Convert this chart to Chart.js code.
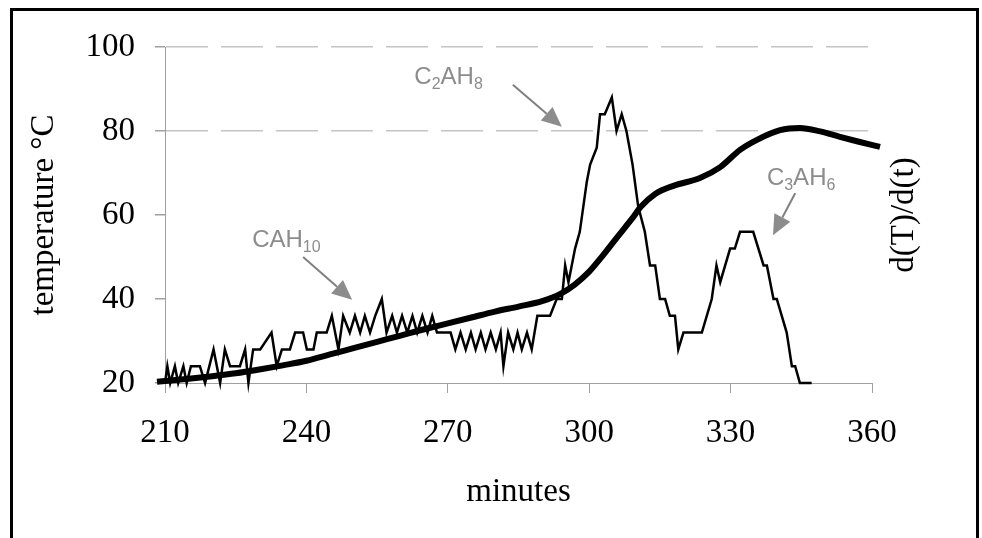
<!DOCTYPE html>
<html>
<head>
    <title>temperature</title>
    <script src="https://cdn.jsdelivr.net/npm/chart.js"></script>
    <style>body { margin: 0; background: #fff; }</style>
</head>
<body>
    <canvas id="chart" width="982" height="538"></canvas>

    <script>
        // thick curve: temperature
        var tempMinutes = [208.3, 215, 220, 225, 230, 235, 240, 245, 250, 255, 260, 265, 270, 275, 280, 285, 290, 294, 297, 300, 303, 306, 309, 311, 314, 318, 323.5, 327.8, 332, 335.6, 340.5, 344.7, 349, 353.2, 357, 361.7];
        var tempValues  = [20.3, 21, 21.6, 22.3, 23.2, 24.2, 25.3, 26.8, 28.3, 29.8, 31.3, 32.8, 34.2, 35.6, 37, 38.2, 39.5, 41.3, 43.5, 46.5, 50.5, 54.8, 59, 62, 65, 67, 68.8, 71.4, 75.5, 77.9, 80.2, 80.7, 79.9, 78.6, 77.5, 76.2];

        // thin jagged curve: d(T)/d(t)
        var rateMinutes = [210, 210.5, 211.1, 212.1, 212.8, 213.9, 214.6, 215.5, 216.4, 217.4, 218.5, 220.3, 221.7, 222.7, 223.8, 225.9, 227, 227.7, 228.7, 230.2, 232.6, 233.7, 234.8, 236.5, 237.6, 239.3, 240.1, 241.5, 242.2, 244.3, 245.4, 246.8, 247.8, 249.2, 250.3, 251.4, 252.4, 253.5, 254.6, 256, 257, 258.2, 259.2, 260.3, 261.4, 262.5, 263.5, 264.6, 265.7, 266.7, 267.7, 270.6, 271.6, 272.7, 273.8, 274.9, 275.9, 277, 278, 279.1, 280.2, 281.2, 281.8, 282.8, 283.9, 284.8, 285.7, 286.8, 287.8, 289, 291.7, 293.1, 294.2, 294.9, 295.6, 297, 298, 299.5, 300.2, 301.6, 302.3, 303.3, 304.8, 305.8, 306.9, 307.9, 309.2, 310.4, 311.8, 312.9, 314, 315, 316.1, 317.1, 318.2, 318.9, 320, 323.9, 326, 327, 327.8, 329.9, 330.9, 332, 334.8, 337, 337.7, 339.1, 339.8, 341.9, 343, 343.7, 344.7, 347.2];
        var rateValues  = [20, 24, 20, 24, 20, 24, 20, 24, 24, 24, 20, 28, 20, 28, 24, 24, 28, 20, 28, 28, 32, 24, 28, 28, 32, 32, 28, 28, 32, 32, 36, 28, 36, 32, 36, 32, 36, 32, 36, 40, 32, 36, 32, 36, 32, 36, 32, 36, 32, 36, 32, 32, 28, 32, 28, 32, 28, 32, 28, 32, 28, 32, 24, 32, 28, 32, 28, 32, 28, 36, 36, 40, 40, 48, 44, 52, 56, 68, 72, 76, 84, 84, 88, 80, 84, 80, 72, 62, 56, 48, 48, 40, 40, 36, 36, 28, 32, 32, 40, 48, 44, 52, 52, 56, 56, 48, 48, 40, 40, 32, 24, 24, 20, 20];

        var xTicks = [210, 240, 270, 300, 330, 360];
        var yTicks = [20, 40, 60, 80, 100];
        var dashedAt = [80, 100];

        function points(xs, ys) {
            return xs.map(function (x, i) { return { x: x, y: ys[i] }; });
        }

        var serif = '"Liberation Serif", "Times New Roman", serif';
        var sans = '"Liberation Sans", Arial, sans-serif';
        var axisGray = '#a0a0a0';

        // grey labels with arrows, placed in data units
        var notes = [
            { parts: [['CAH', 0], ['10', 1]], at: [228.5, 52.4], from: [239.3, 50], to: [249.7, 39.8] },
            { parts: [['C', 0], ['2', 1], ['AH', 0], ['8', 1]], at: [262.9, 91.2], from: [283.8, 91], to: [294.2, 81] },
            { parts: [['C', 0], ['3', 1], ['AH', 0], ['6', 1]], at: [337.7, 67.1], from: [343.7, 65.2], to: [339.0, 55.2] }
        ];

        var overlay = {
            id: 'overlay',
            beforeDraw: function (chart) {
                var c = chart.ctx;
                c.save();
                c.fillStyle = '#fff';
                c.fillRect(0, 0, chart.width, chart.height);
                c.strokeStyle = '#000';
                c.lineWidth = 3;
                c.strokeRect(11.5, 9.5, 966, 600);
                c.restore();
            },
            afterDraw: function (chart) {
                var c = chart.ctx, xs = chart.scales.x, ys = chart.scales.y;
                var area = chart.chartArea;

                // right-hand axis title, read bottom to top
                c.save();
                c.translate(904, (area.top + area.bottom) / 2);
                c.rotate(-Math.PI / 2);
                c.font = '33px ' + serif;
                c.fillStyle = '#000';
                c.textAlign = 'center';
                c.textBaseline = 'middle';
                c.fillText('d(T)/d(t)', 0, 0);
                c.restore();

                notes.forEach(function (n) {
                    c.save();
                    c.fillStyle = '#8c8c8c';
                    c.strokeStyle = '#808080';
                    c.textBaseline = 'alphabetic';
                    var px = xs.getPixelForValue(n.at[0]);
                    var py = ys.getPixelForValue(n.at[1]);
                    n.parts.forEach(function (p) {
                        c.font = (p[1] ? '16px ' : '24px ') + sans;
                        c.fillText(p[0], px, py + (p[1] ? 5 : 0));
                        px += c.measureText(p[0]).width;
                    });
                    var x1 = xs.getPixelForValue(n.from[0]), y1 = ys.getPixelForValue(n.from[1]);
                    var x2 = xs.getPixelForValue(n.to[0]), y2 = ys.getPixelForValue(n.to[1]);
                    var a = Math.atan2(y2 - y1, x2 - x1);
                    var len = 20, half = 9;
                    var bx = x2 - len * Math.cos(a), by = y2 - len * Math.sin(a);
                    c.lineWidth = 2;
                    c.beginPath();
                    c.moveTo(x1, y1);
                    c.lineTo(bx, by);
                    c.stroke();
                    c.beginPath();
                    c.moveTo(x2, y2);
                    c.lineTo(bx + half * Math.sin(a), by - half * Math.cos(a));
                    c.lineTo(bx - half * Math.sin(a), by + half * Math.cos(a));
                    c.closePath();
                    c.fill();
                    c.restore();
                });
            }
        };

        var ctx = document.getElementById('chart').getContext('2d');
        var chart = new Chart(ctx, {
            type: 'line',
            data: {
                datasets: [{
                    label: 'temperature',
                    data: points(tempMinutes, tempValues),
                    borderColor: '#000',
                    borderWidth: 6,
                    pointRadius: 0,
                    tension: 0.4,
                    cubicInterpolationMode: 'monotone',
                    clip: false
                }, {
                    label: 'd(T)/d(t)',
                    data: points(rateMinutes, rateValues),
                    borderColor: '#000',
                    borderWidth: 2.5,
                    pointRadius: 0,
                    tension: 0,
                    clip: false
                }]
            },
            options: {
                responsive: false,
                animation: false,
                events: [],
                layout: { padding: { top: 47, right: 110, left: 0, bottom: 0 } },
                plugins: { legend: { display: false }, tooltip: { enabled: false } },
                scales: {
                    x: {
                        type: 'linear',
                        min: 210,
                        max: 360,
                        afterBuildTicks: function (s) { s.ticks = xTicks.map(function (v) { return { value: v }; }); },
                        afterFit: function (s) { s.height = 155; },
                        grid: { drawOnChartArea: false, tickLength: 10, tickColor: axisGray },
                        border: { color: axisGray, width: 1 },
                        ticks: { color: '#000', padding: 21, font: { family: serif, size: 33 } },
                        title: { display: true, text: 'minutes', color: '#000', padding: { top: 0, bottom: 26 }, font: { family: serif, size: 33 } }
                    },
                    y: {
                        min: 20,
                        max: 100,
                        afterBuildTicks: function (s) { s.ticks = yTicks.map(function (v) { return { value: v }; }); },
                        afterFit: function (s) { s.width = 165; },
                        grid: {
                            color: function (c) { return c.tick && dashedAt.indexOf(c.tick.value) >= 0 ? '#c4c4c4' : 'rgba(0,0,0,0)'; },
                            lineWidth: 1.5,
                            tickLength: 10,
                            tickColor: axisGray
                        },
                        border: { color: axisGray, width: 1, dash: [42, 13] },
                        ticks: { color: '#000', padding: 20, font: { family: serif, size: 33 } },
                        title: { display: true, text: 'temperature °C', color: '#000', padding: { top: 25, bottom: 0 }, font: { family: serif, size: 33 } }
                    }
                }
            },
            plugins: [overlay]
        });
    </script>
</body>
</html>
